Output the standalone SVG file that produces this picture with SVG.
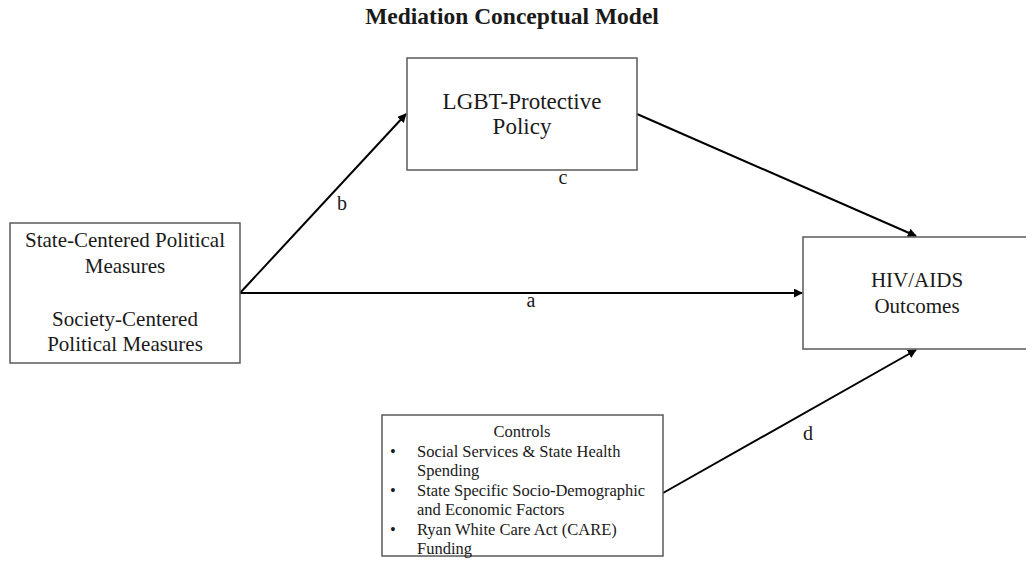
<svg xmlns="http://www.w3.org/2000/svg" width="1026" height="566" viewBox="0 0 1026 566">
<style>
.box{fill:#fff;stroke:#595959;stroke-width:1.5}
.t{font-family:"Liberation Serif","Times New Roman",serif;fill:#1a1a1a;text-anchor:middle}
.ts{font-family:"Liberation Serif","Times New Roman",serif;fill:#1a1a1a;font-size:16.5px}
.edge{stroke:#000;stroke-width:2;fill:none;marker-end:url(#arr)}
.lbl{font-family:"Liberation Serif","Times New Roman",serif;fill:#1a1a1a;font-size:20px;text-anchor:middle}
</style>
<defs>
<marker id="arr" viewBox="0 0 10 10" refX="9" refY="5" markerWidth="4.5" markerHeight="4.5" orient="auto" markerUnits="strokeWidth">
<path d="M0,0 L10,5 L0,10 z" fill="#000"/>
</marker>
</defs>
<rect width="1026" height="566" fill="#fff"/>
<text class="t" x="512" y="24" font-size="23.5" font-weight="bold">Mediation Conceptual Model</text>
<g id="connectors">
<line class="edge" x1="240" y1="293" x2="406" y2="114"/>
<line class="edge" x1="240" y1="293" x2="802" y2="293"/>
<line class="edge" x1="637" y1="114" x2="916" y2="236"/>
<line class="edge" x1="663" y1="493" x2="916" y2="350"/>
<text class="lbl" x="342" y="210">b</text>
<text class="lbl" x="563" y="184">c</text>
<text class="lbl" x="531" y="307">a</text>
<text class="lbl" x="808" y="440">d</text>
</g>
<g id="source">
<rect class="box" x="10" y="223" width="230" height="140"/>
<text class="t" font-size="21" x="125" y="247">State-Centered Political</text>
<text class="t" font-size="21" x="125" y="273">Measures</text>
<text class="t" font-size="21" x="125" y="326">Society-Centered</text>
<text class="t" font-size="21" x="125" y="351">Political Measures</text>
</g>
<g id="mediator">
<rect class="box" x="407" y="58" width="230" height="112"/>
<text class="t" font-size="23" x="522" y="109">LGBT-Protective</text>
<text class="t" font-size="23" x="522" y="134">Policy</text>
</g>
<g id="outcome">
<rect class="box" x="803" y="237" width="230" height="112"/>
<text class="t" font-size="21" x="917" y="287">HIV/AIDS</text>
<text class="t" font-size="21" x="917" y="313">Outcomes</text>
</g>
<g id="controls">
<rect class="box" x="382" y="415" width="281" height="141"/>
<text class="t" font-size="16.5" x="522" y="437">Controls</text>
<text class="ts" x="390" y="457">•</text>
<text class="ts" x="417" y="457">Social Services &amp; State Health</text>
<text class="ts" x="417" y="476">Spending</text>
<text class="ts" x="390" y="496">•</text>
<text class="ts" x="417" y="496">State Specific Socio-Demographic</text>
<text class="ts" x="417" y="515">and Economic Factors</text>
<text class="ts" x="390" y="535">•</text>
<text class="ts" x="417" y="535">Ryan White Care Act (CARE)</text>
<text class="ts" x="417" y="554">Funding</text>
</g>
</svg>
